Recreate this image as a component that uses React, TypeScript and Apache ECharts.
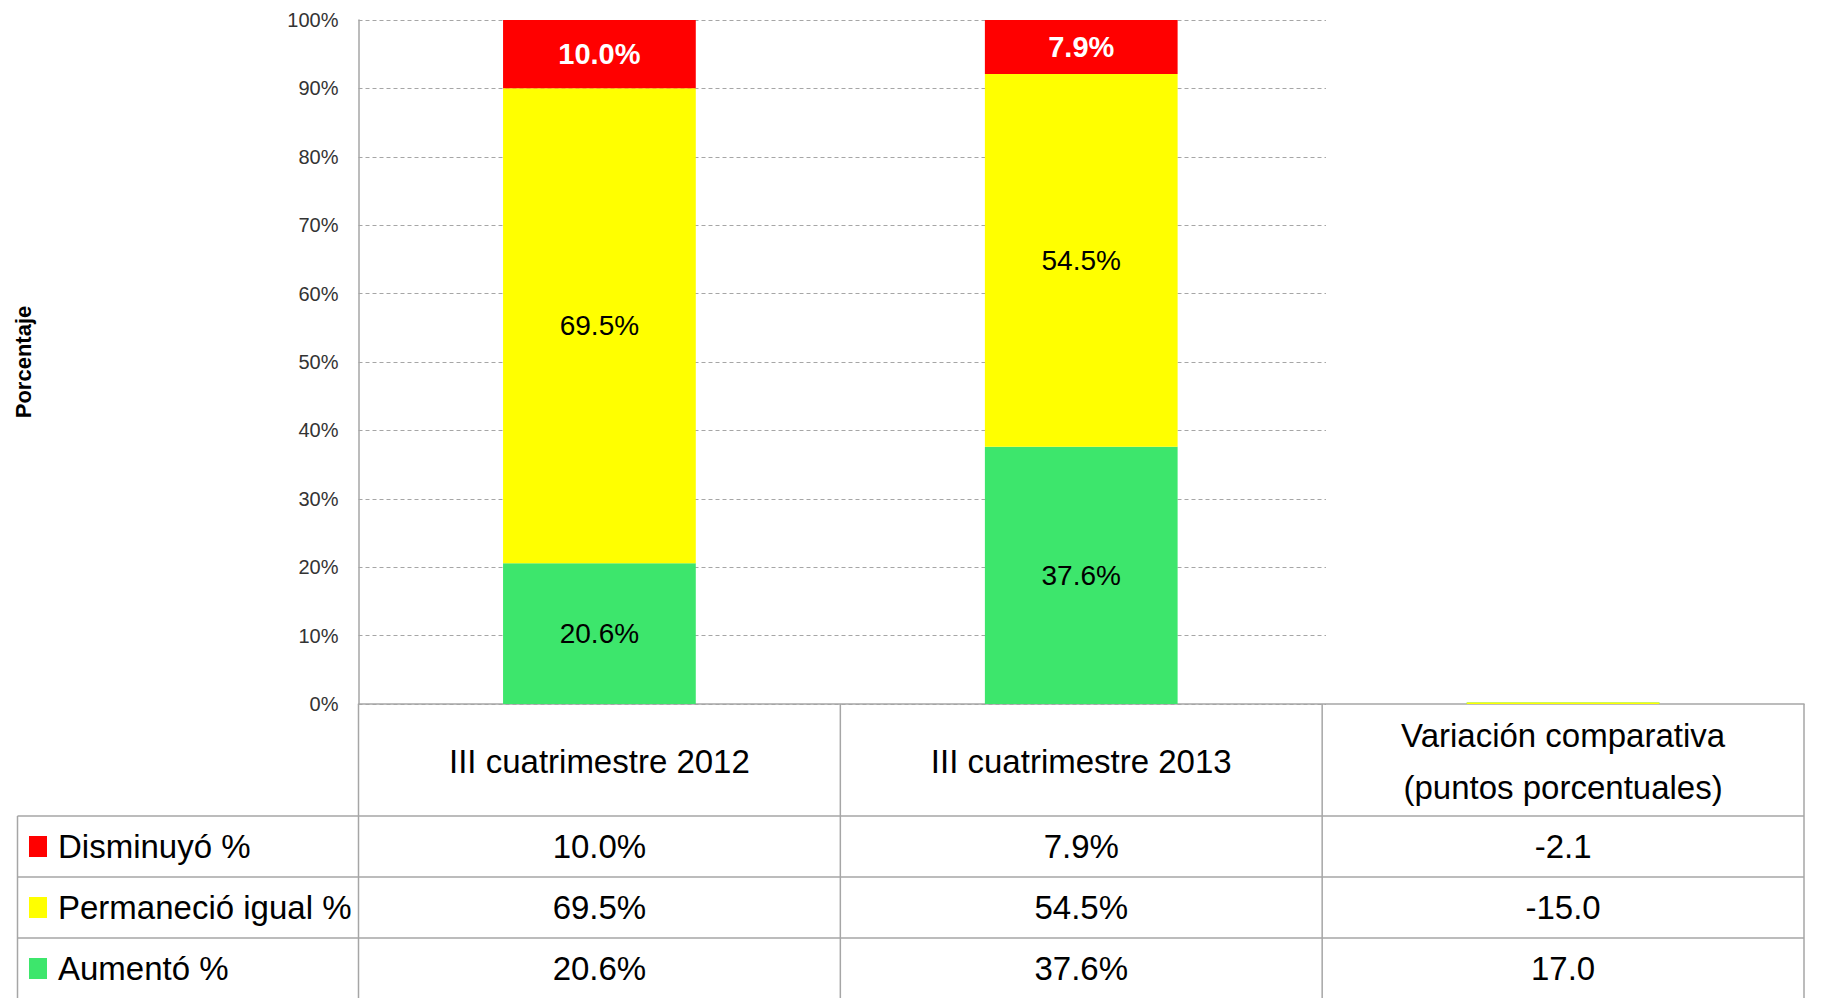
import React, { useEffect, useRef } from "react";
import * as echarts from "echarts";

// ---------- data ----------
const categories = [
  "III cuatrimestre 2012",
  "III cuatrimestre 2013",
  "Variación comparativa\n(puntos porcentuales)",
];
const seriesNames = ["Disminuyó %", "Permaneció igual %", "Aumentó %"];
const disminuyo = [10.0, 7.9];
const permanecio = [69.5, 54.5];
const aumento = [20.6, 37.6];
// variation in percentage points: Disminuyó, Permaneció igual, Aumentó
const variacion = [-2.1, -15.0, 17.0];
const yMin = 0;
const yMax = 100;
const yInterval = 10;

const colors = ["#FF0000", "#FFFF00", "#3DE66C"];

// ---------- layout ----------
const W = 1825;
const H = 998;
const FONT = "'Liberation Sans', Arial, sans-serif";
const PLOT_LEFT = 358.5;
const PLOT_TOP = 20;
const AXIS_Y = 704;
const PLOT_RIGHT = 1804;
const GRIDLINE_RIGHT = 1326;
const TABLE_LEFT = 17.5;
const ROW_EDGES = [AXIS_Y, 816, 877, 938, 999];
const LINE_COLOR = "#A6A6A6";

export default function App() {
  const ref = useRef<HTMLDivElement>(null);

  useEffect(() => {
    const chart = echarts.init(ref.current!, null, { renderer: "svg" });

    const rows = [disminuyo, permanecio, aumento];
    const totals = disminuyo.map((_, i) => disminuyo[i] + permanecio[i] + aumento[i]);
    const share = (arr: number[]) => arr.map((v, i) => (v / totals[i]) * 100);

    const plotH = AXIS_Y - PLOT_TOP;
    const cw = (PLOT_RIGHT - PLOT_LEFT) / categories.length;
    const colCenters = categories.map((_, i) => PLOT_LEFT + cw * (i + 0.5));

    // stacking order bottom->top: Aumentó, Permaneció, Disminuyó
    const stackOrder = [2, 1, 0];
    const series: any[] = stackOrder.map((k) => {
      const raw = rows[k];
      const data: any[] = share(raw).map((v) => v);
      data.push(k === 0 ? "-" : 0);
      const isRed = k === 0;
      return {
        name: seriesNames[k],
        type: "bar",
        stack: "total",
        xAxisIndex: 1,
        yAxisIndex: 1,
        barWidth: "40%",
        barMinHeight: k === 0 ? 0 : 1.5,
        itemStyle: { color: colors[k] },
        label: {
          show: true,
          position: "inside",
          fontFamily: FONT,
          fontSize: isRed ? 29 : 28,
          fontWeight: isRed ? "bold" : "normal",
          color: isRed ? "#FFFFFF" : "#000000",
          formatter: (p: any) =>
            p.dataIndex < raw.length ? raw[p.dataIndex].toFixed(1) + "%" : "",
        },
        data,
      };
    });

    const g: any[] = [];
    const line = (x1: number, y1: number, x2: number, y2: number) =>
      g.push({
        type: "line",
        silent: true,
        shape: { x1, y1, x2, y2 },
        style: { stroke: LINE_COLOR, lineWidth: 1.5 },
      });
    // horizontal table lines
    for (let r = 1; r < ROW_EDGES.length - 1; r++) {
      line(TABLE_LEFT, ROW_EDGES[r], PLOT_RIGHT, ROW_EDGES[r]);
    }
    // vertical table lines
    for (let c = 0; c <= categories.length; c++) {
      const x = PLOT_LEFT + cw * c;
      line(x, AXIS_Y, x, ROW_EDGES[ROW_EDGES.length - 1]);
    }
    line(TABLE_LEFT, ROW_EDGES[1], TABLE_LEFT, ROW_EDGES[ROW_EDGES.length - 1]);

    // header texts
    categories.forEach((c, i) => {
      g.push({
        type: "text",
        silent: true,
        x: colCenters[i],
        y: (ROW_EDGES[0] + ROW_EDGES[1]) / 2 + 1,
        style: {
          text: c,
          fontFamily: FONT,
          fontSize: 33,
          lineHeight: 52,
          fill: "#000000",
          align: "center",
          verticalAlign: "middle",
        },
      });
    });

    // data rows
    rows.forEach((arr, r) => {
      const cy = (ROW_EDGES[r + 1] + ROW_EDGES[r + 2]) / 2;
      g.push({
        type: "rect",
        silent: true,
        shape: { x: 29, y: cy - 10.5, width: 18, height: 21 },
        style: { fill: colors[r] },
      });
      g.push({
        type: "text",
        silent: true,
        x: 58,
        y: cy,
        style: {
          text: seriesNames[r],
          fontFamily: FONT,
          fontSize: 33,
          fill: "#000000",
          align: "left",
          verticalAlign: "middle",
        },
      });
      const cells = [...arr.map((v) => v.toFixed(1) + "%"), variacion[r].toFixed(1)];
      cells.forEach((t, i) => {
        g.push({
          type: "text",
          silent: true,
          x: colCenters[i],
          y: cy,
          style: {
            text: t,
            fontFamily: FONT,
            fontSize: 33,
            fill: "#000000",
            align: "center",
            verticalAlign: "middle",
          },
        });
      });
    });

    const option: any = {
      animation: false,
      backgroundColor: "#FFFFFF",
      grid: [
        {
          left: PLOT_LEFT,
          top: PLOT_TOP,
          width: GRIDLINE_RIGHT - PLOT_LEFT,
          height: plotH,
          containLabel: false,
          outerBoundsMode: "none",
        },
        {
          left: PLOT_LEFT,
          top: PLOT_TOP,
          width: PLOT_RIGHT - PLOT_LEFT,
          height: plotH,
          containLabel: false,
          outerBoundsMode: "none",
        },
      ],
      xAxis: [
        {
          gridIndex: 0,
          type: "category",
          data: categories.slice(0, 2),
          show: false,
        },
        {
          gridIndex: 1,
          type: "category",
          data: categories,
          axisLine: { show: true, lineStyle: { color: LINE_COLOR, width: 1.5 } },
          axisTick: { show: false },
          axisLabel: { show: false },
        },
      ],
      yAxis: [
        {
          gridIndex: 0,
          type: "value",
          min: yMin,
          max: yMax,
          interval: yInterval,
          name: "Porcentaje",
          nameLocation: "middle",
          nameRotate: 90,
          nameGap: PLOT_LEFT - 34,
          nameTextStyle: {
            fontFamily: FONT,
            fontSize: 22,
            fontWeight: "bold",
            color: "#000000",
          },
          axisLine: { show: true, lineStyle: { color: LINE_COLOR, width: 1.5 } },
          axisTick: { show: false },
          axisLabel: {
            formatter: "{value}%",
            fontFamily: FONT,
            fontSize: 20,
            color: "#333333",
            margin: 20,
          },
          splitLine: {
            show: true,
            lineStyle: { color: "#A6A6A6", width: 1, type: [4, 3] },
          },
        },
        {
          gridIndex: 1,
          type: "value",
          min: yMin,
          max: yMax,
          interval: yInterval,
          show: false,
          splitLine: { show: false },
        },
      ],
      series,
      graphic: { elements: g },
    };

    chart.setOption(option);
    return () => chart.dispose();
  }, []);

  return (
    <div
      ref={ref}
      style={{ position: "absolute", left: 0, top: 0, width: W, height: H }}
    />
  );
}
